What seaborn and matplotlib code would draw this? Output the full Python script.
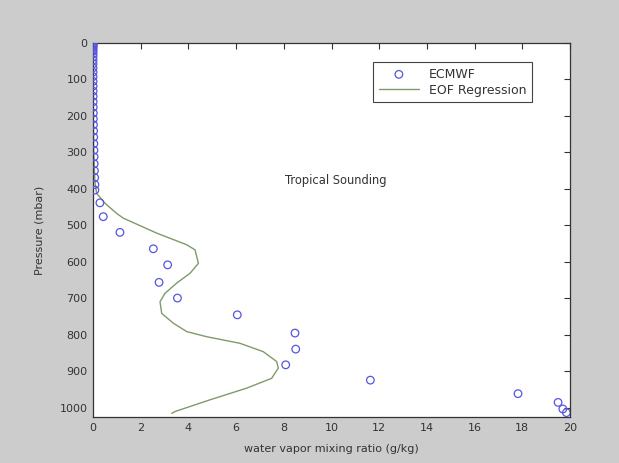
import matplotlib
matplotlib.use("Agg")
import matplotlib.pyplot as plt
import seaborn as sns
import pandas as pd

# ECMWF water vapour mixing ratio profile (g/kg) on model pressure levels (mbar)
ecmwf_pressure = [1, 3, 5, 8, 12, 17, 23, 30, 38, 47, 57, 68, 80, 92, 105, 118,
                  132, 146, 161, 176, 192, 208, 224, 241, 258, 276, 294, 312,
                  331, 350, 369, 388, 403, 438, 476, 519, 564, 608, 656, 699,
                  745, 795, 839, 882, 924, 961, 985, 1003, 1013]
ecmwf_mixing = [0.003, 0.003, 0.003, 0.003, 0.003, 0.003, 0.003, 0.003, 0.003,
                0.003, 0.003, 0.003, 0.003, 0.003, 0.004, 0.004, 0.005, 0.006,
                0.008, 0.01, 0.012, 0.015, 0.02, 0.025, 0.03, 0.035, 0.04,
                0.045, 0.05, 0.06, 0.07, 0.08, 0.08, 0.29, 0.43, 1.13, 2.53,
                3.13, 2.77, 3.54, 6.05, 8.47, 8.5, 8.08, 11.63, 17.82, 19.5,
                19.7, 19.85]

# EOF regression retrieval of the same profile
eof_pressure = [0, 100, 200, 300, 380, 412, 439, 467, 480, 521, 553, 567, 604,
                631, 658, 686, 709, 741, 768, 791, 805, 823, 846, 873, 891, 919,
                946, 978, 1010, 1015]
eof_mixing = [0.0, 0.0, 0.01, 0.03, 0.08, 0.15, 0.5, 0.99, 1.27, 2.67, 3.93,
              4.28, 4.42, 4.07, 3.51, 3.02, 2.81, 2.88, 3.37, 3.93, 4.77, 6.16,
              7.14, 7.7, 7.77, 7.49, 6.44, 4.9, 3.44, 3.3]

x_ticks = list(range(0, 21, 2))
y_ticks = list(range(0, 1001, 100))

ecmwf = pd.DataFrame({"q": ecmwf_mixing, "p": ecmwf_pressure})
eof = pd.DataFrame({"q": eof_mixing, "p": eof_pressure})

sns.set_style("white")
plt.rcParams["font.family"] = ["DejaVu Sans"]

fig = plt.figure(figsize=(6.19, 4.63), dpi=100, facecolor="#cccccc")
ax = fig.add_axes([93 / 619, 1 - 417 / 463, 477 / 619, 374 / 463])
ax.set_facecolor("white")

blue = "#5555e0"
green = "#7f9a6a"

sns.scatterplot(data=ecmwf, x="q", y="p", ax=ax, marker="o", s=30,
                facecolor="none", edgecolor=blue, linewidth=0.9,
                label="ECMWF", zorder=3)
sns.lineplot(data=eof, x="q", y="p", ax=ax, sort=False, estimator=None,
             color=green, linewidth=1.0, label="EOF Regression", zorder=2)

ax.set_xlim(0, 20)
ax.set_ylim(1025, 0)
ax.set_xticks(x_ticks)
ax.set_yticks(y_ticks)

for s in ax.spines.values():
    s.set_visible(True)
    s.set_color("#333333")
    s.set_linewidth(0.9)
ax.tick_params(direction="in", length=4, width=0.8, color="#333333",
               top=True, right=True, labelsize=8, labelcolor="#333333",
               pad=4)

ax.set_xlabel("water vapor mixing ratio (g/kg)", fontsize=8, color="#333333",
              labelpad=8)
ax.set_ylabel("Pressure (mbar)", fontsize=8, color="#333333", labelpad=11)

ax.text(8.05, 378, "Tropical Sounding", fontsize=8.3, color="#333333",
        ha="left", va="center")

leg = ax.legend(loc="upper right", bbox_to_anchor=(532 / 619, 1 - 62 / 463),
                bbox_transform=fig.transFigure, borderaxespad=0,
                fontsize=9, frameon=True, fancybox=False, framealpha=1,
                edgecolor="#444444", handlelength=3.2, handletextpad=0.8,
                borderpad=0.45, labelspacing=0.25)
leg.get_frame().set_linewidth(0.8)
for t in leg.get_texts():
    t.set_color("#333333")

fig.savefig("out.png", dpi=100, facecolor=fig.get_facecolor())
